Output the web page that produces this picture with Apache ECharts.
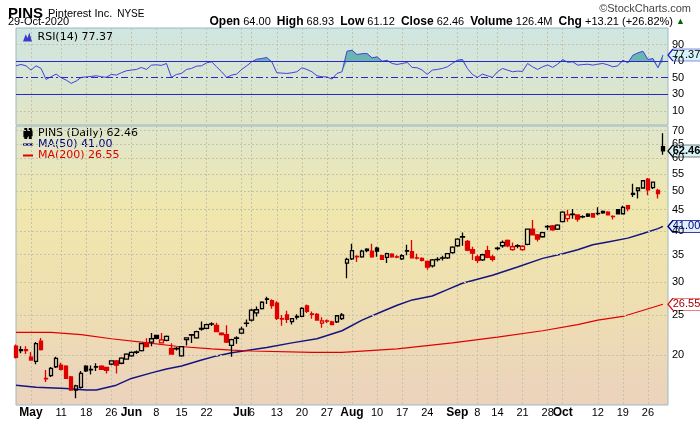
<!DOCTYPE html>
<html><head><meta charset="utf-8">
<script src="https://cdn.jsdelivr.net/npm/echarts@6/dist/echarts.min.js"></script>
<style>html,body{margin:0;padding:0;background:#fff}#c{width:700px;height:421px}</style>
</head><body><div id="c"></div>
<script>
// ---- categories (trading days 2020) ----
const dates = [
 '4/28','4/29','4/30',
 '5/1','5/4','5/5','5/6','5/7','5/8','5/11','5/12','5/13','5/14','5/15','5/18','5/19','5/20','5/21','5/22','5/26','5/27','5/28','5/29',
 '6/1','6/2','6/3','6/4','6/5','6/8','6/9','6/10','6/11','6/12','6/15','6/16','6/17','6/18','6/19','6/22','6/23','6/24','6/25','6/26','6/29','6/30',
 '7/1','7/2','7/6','7/7','7/8','7/9','7/10','7/13','7/14','7/15','7/16','7/17','7/20','7/21','7/22','7/23','7/24','7/27','7/28','7/29','7/30','7/31',
 '8/3','8/4','8/5','8/6','8/7','8/10','8/11','8/12','8/13','8/14','8/17','8/18','8/19','8/20','8/21','8/24','8/25','8/26','8/27','8/28','8/31',
 '9/1','9/2','9/3','9/4','9/8','9/9','9/10','9/11','9/14','9/15','9/16','9/17','9/18','9/21','9/22','9/23','9/24','9/25','9/28','9/29','9/30',
 '10/1','10/2','10/5','10/6','10/7','10/8','10/9','10/12','10/13','10/14','10/15','10/16','10/19','10/20','10/21','10/22','10/23','10/26','10/27','10/28','10/29'
];
const categories = dates.concat(['']);

// x tick labels: [date, text, isMonth]
const xTickLabels = [
 ['5/1','May',1],['5/11','11',0],['5/18','18',0],['5/26','26',0],['6/1','Jun',1],['6/8','8',0],['6/15','15',0],['6/22','22',0],
 ['7/1','Jul',1],['7/6','6',0],['7/13','13',0],['7/20','20',0],['7/27','27',0],['8/3','Aug',1],['8/10','10',0],['8/17','17',0],['8/24','24',0],
 ['9/1','Sep',1],['9/8','8',0],['9/14','14',0],['9/21','21',0],['9/28','28',0],['10/1','Oct',1],['10/12','12',0],['10/19','19',0],['10/26','26',0]
];
const priceTicks = [20,25,30,35,40,45,50,55,60,65,70];
const rsiTicks = [10,30,50,70,90];

// ---- OHLC ----
const opens = [21.0,20.5,20.6,19.75,19.3,21.6,17.55,17.82,18.73,18.91,18.8,17.7,16.45,16.7,18.8,18.4,18.7,18.8,18.65,19.0,19.35,19.1,19.55,
 19.9,20.3,20.5,21.4,21.5,22.3,21.4,21.7,20.75,20.7,19.9,21.8,22.35,22.0,23.1,23.2,23.75,23.6,22.6,22.4,21.1,21.95,
 22.6,23.85,24.3,25.3,25.9,27.3,27.1,26.7,24.5,25.0,24.1,24.7,24.8,26.3,25.15,25.1,23.9,24.2,24.05,24.05,24.5,33.4,
 34.2,34.7,34.6,36.1,35.7,36.3,34.8,34.5,35.1,34.6,34.2,35.7,35.6,34.4,34.3,33.7,32.9,34.05,34.35,34.4,35.4,
 36.8,38.6,37.7,36.0,34.6,34.0,35.8,34.6,36.2,36.8,37.9,36.0,36.75,36.0,37.1,40.4,39.1,38.7,40.9,41.1,40.4,
 42.1,42.8,43.8,43.7,43.25,43.9,44.0,44.05,44.6,44.4,43.35,45.0,44.0,46.0,49.0,50.1,50.8,53.4,50.9,50.1,64.00];
const highs = [21.2,21.0,21.0,20.35,21.5,22.0,18.4,18.7,19.8,19.15,18.9,17.8,16.95,18.3,18.9,18.85,19.1,18.9,18.7,19.4,19.45,19.75,20.2,
 20.4,20.5,21.4,21.95,22.6,22.4,22.6,22.3,21.35,20.9,21.0,22.05,22.5,22.9,24.1,23.8,24.0,23.95,22.7,23.6,21.9,22.2,
 23.4,24.4,25.9,26.2,27.0,27.7,27.3,27.0,25.0,25.6,24.6,25.1,26.1,26.5,25.5,25.3,24.7,24.4,24.2,25.0,25.3,34.4,
 37.2,34.9,36.0,36.3,37.2,36.6,35.0,35.4,35.3,34.9,35.1,37.0,38.0,35.2,34.5,33.9,34.2,34.5,34.8,35.3,36.7,
 38.4,39.6,38.0,36.6,35.0,35.2,36.8,35.0,36.6,37.9,38.1,37.5,37.1,36.9,40.5,42.5,39.3,39.8,41.3,41.3,41.5,
 44.6,45.0,45.2,43.9,43.6,44.1,44.2,45.6,44.8,44.6,43.6,45.1,46.0,46.2,52.0,51.0,53.0,53.7,52.7,50.6,68.93];
const lows = [19.6,20.2,20.1,19.4,19.0,20.5,17.2,17.7,18.6,18.35,17.5,16.4,15.7,16.6,18.2,17.95,18.3,18.4,18.05,18.9,18.05,19.0,19.5,
 19.8,20.1,20.4,20.9,21.0,21.85,21.35,21.6,20.05,20.5,19.8,21.1,21.4,21.9,22.9,23.1,23.5,22.7,22.3,21.4,19.8,21.3,
 22.5,23.4,24.1,24.8,25.8,26.6,25.9,24.3,23.55,23.9,23.7,24.4,24.7,25.3,24.5,24.2,23.3,23.9,23.6,23.9,24.3,30.7,
 34.0,33.6,34.4,35.5,34.4,34.6,34.0,33.4,34.4,34.3,34.0,34.9,34.3,34.1,33.7,32.2,32.6,33.7,33.9,34.2,35.2,
 36.6,36.8,35.7,34.0,33.4,33.8,34.3,33.7,35.9,36.4,36.5,35.8,36.3,35.8,36.9,39.0,37.7,38.5,40.2,40.0,40.2,
 42.0,42.1,42.8,42.1,42.9,43.2,43.0,43.6,44.0,43.6,42.6,43.8,43.8,44.6,48.3,47.9,50.6,48.8,50.5,47.9,61.12];
const closes = [19.75,20.6,20.5,19.45,21.3,20.6,17.5,18.57,19.63,18.45,17.55,16.45,16.84,18.06,18.3,18.45,18.75,18.45,18.35,19.35,18.9,19.65,20.1,
 20.3,20.35,21.3,20.95,21.9,21.95,21.75,22.2,20.1,20.75,20.95,22.0,22.4,22.8,23.2,23.7,23.8,22.8,22.4,21.5,21.8,22.0,
 23.1,23.9,25.7,25.75,26.85,27.35,26.35,24.55,24.45,24.4,24.5,24.8,25.95,25.5,25.1,24.3,24.2,24.15,23.7,24.9,25.0,34.1,
 35.8,34.6,35.7,35.8,34.6,35.7,34.1,35.2,34.6,34.55,34.8,35.8,34.4,34.35,33.9,32.65,34.0,34.1,34.4,35.2,36.5,
 38.2,38.7,35.9,35.3,33.9,35.0,34.5,34.1,36.3,37.5,36.8,36.6,36.8,36.7,40.4,39.1,38.2,39.6,41.0,40.2,41.3,
 44.4,43.7,43.9,42.7,43.3,43.4,43.2,44.1,44.2,43.7,43.3,44.0,45.6,45.3,49.3,50.8,52.9,50.3,52.5,49.25,62.46];

// ---- moving averages ----
const ma50 = [['4/28',16.9],['5/4',16.7],['5/12',16.6],['5/18',16.45],['5/20',16.45],['5/27',16.9],['6/1',17.55],['6/5',18.1],['6/10',18.5],['6/15',18.8],
 ['6/19',19.45],['6/24',19.9],['6/29',20.25],['7/9',20.85],['7/16',21.4],['7/23',21.9],['7/30',22.9],['8/5',24.3],['8/11',25.5],['8/14',26.4],
 ['8/19',27.2],['8/25',27.8],['8/28',28.8],['9/2',29.85],['9/11',31.2],['9/18',32.7],['9/25',34.3],['10/1',35.2],['10/6',36.0],['10/9',37.0],
 ['10/14',37.6],['10/20',38.4],['10/23',39.4],['10/28',40.5],['10/29',41.0]];
const ma200 = [['4/28',22.7],['5/7',22.7],['5/15',22.4],['5/26',21.9],['6/3',21.5],['6/12',21.0],['6/23',20.7],['6/29',20.56],['7/6',20.45],
 ['7/22',20.3],['7/30',20.3],['8/14',20.7],['8/31',21.4],['9/14',22.1],['9/25',22.9],['10/6',23.7],['10/12',24.3],['10/19',24.8],['10/29',26.55]];

// ---- RSI(14) ----
const rsi = [64.4,66.0,64.4,59.2,64.4,61.2,48.0,51.2,54.4,50.0,
 47.2,43.2,46.0,50.4,51.0,51.6,52.4,51.2,50.6,54.0,
 53.2,56.0,58.4,59.2,60.0,62.4,60.0,65.2,65.6,64.9,
 67.2,50.4,54.0,55.2,60.0,61.2,64.0,64.4,68.0,69.2,
 63.2,57.2,50.4,53.2,54.4,60.0,64.4,69.2,72.4,73.2,
 74.4,69.2,56.0,55.6,55.2,56.0,57.2,62.0,60.0,57.2,
 52.4,51.2,50.9,48.4,55.2,57.2,82.0,83.2,78.0,79.0,
 79.2,74.0,75.2,70.0,71.0,67.2,66.0,67.2,68.4,62.4,
 62.0,59.2,54.0,59.2,60.0,61.2,63.2,67.2,71.2,72.0,
 61.2,54.0,50.4,54.4,52.4,50.4,57.2,61.2,59.2,57.2,
 58.0,57.6,67.2,63.2,60.0,63.2,65.4,62.5,66.4,72.0,
 68.6,69.2,65.2,65.9,66.3,65.2,66.4,67.2,65.6,63.2,
 64.4,71.2,68.0,77.2,80.0,82.0,72.0,73.2,62.0,77.37];
const RSI_OB = 70;

const last = closes.length - 1;
const lastMa50 = ma50[ma50.length-1][1], lastMa200 = ma200[ma200.length-1][1], lastRsi = rsi[rsi.length-1];
const chg = closes[last] - closes[last-1];
const chgPct = chg / closes[last-1] * 100;

const RED = '#e00000', BLK = '#000000', HOLLOW = 'rgba(255,255,255,0)';
// colour: black if close >= previous close, red otherwise; hollow body if close > open, filled otherwise
const candleData = closes.map((c, i) => {
  const prev = i === 0 ? opens[0] : closes[i-1];
  const col = c >= prev ? BLK : RED;
  const fill = c > opens[i] ? HOLLOW : col;
  return { value: [opens[i], c, lows[i], highs[i]],
    itemStyle: { color: fill, color0: fill, borderColor: col, borderColor0: col, borderColorDoji: col } };
});
// overbought fill: stacked band between 70 and the RSI line
const rsiBase = rsi.map(v => Math.min(v, RSI_OB));
const rsiOver = rsi.map(v => Math.max(v - RSI_OB, 0));

const labelMap = {}; xTickLabels.forEach(t => labelMap[t[0]] = t);
const isTick = (idx, val) => !!labelMap[val];
const FONT = 'Liberation Sans, Arial, sans-serif';
const tagSymbol = 'path://M0,6L6,0L40,0L40,12L6,12Z';
const tag = (y, fill, border, txtCol, bold) => ({
  symbol: tagSymbol, symbolSize: [33, 12], symbolOffset: [16.5, 0], silent: true,
  data: [{ coord: [categories.length - 1, y], value: y }],
  itemStyle: { color: fill, borderColor: border, borderWidth: 1 },
  label: { show: true, position: 'inside', offset: [2, 0], formatter: (p) => Number(p.value).toFixed(2),
           color: txtCol, fontSize: 11, fontFamily: FONT, fontWeight: bold ? 'bold' : 'normal' }
});
const gridLine = { color: '#c4c4ac', type: [2, 2], width: 1 };

const chart = echarts.init(document.getElementById('c'), null, { renderer: 'canvas' });
chart.setOption({
  animation: false,
  backgroundColor: '#ffffff',
  title: [
    { left: 3, top: 0, text: '{a|PINS} {b|Pinterest Inc.} {c|NYSE}',
      textStyle: { rich: { a: { fontSize: 15, fontWeight: 'bold', fontFamily: FONT, color: '#000' },
                           b: { fontSize: 11, fontWeight: 'normal', fontFamily: FONT, color: '#000' },
                           c: { fontSize: 10, fontWeight: 'normal', fontFamily: FONT, color: '#000' } } } },
    { left: 3, top: 11, text: '29-Oct-2020', textStyle: { fontSize: 11, fontWeight: 'normal', fontFamily: FONT, color: '#000' } },
    { right: 4, top: -2, text: '\u00a9StockCharts.com', textStyle: { fontSize: 11, fontWeight: 'normal', fontFamily: FONT, color: '#444' } },
    { right: 10, top: 11,
      text: '{b|Open} ' + opens[last].toFixed(2) + '  {b|High} ' + highs[last].toFixed(2) + '  {b|Low} ' + lows[last].toFixed(2) +
            '  {b|Close} ' + closes[last].toFixed(2) + '  {b|Volume} 126.4M  {b|Chg} +' + chg.toFixed(2) + ' (+' + chgPct.toFixed(2) + '%) {g|\u25b2}',
      textStyle: { fontSize: 11, fontWeight: 'normal', fontFamily: FONT, color: '#000',
        rich: { b: { fontSize: 12, fontWeight: 'bold', fontFamily: FONT, color: '#000' }, g: { fontSize: 9, color: '#006400' } } } }
  ],
  legend: [
    { left: 18, top: 26, orient: 'vertical', itemWidth: 10, itemHeight: 9, itemGap: 0, selectedMode: false,
      data: [{ name: 'RSI(14)', icon: 'path://M0,10L3,2L5,6L7,0L10,10Z', itemStyle: { color: '#3c3ccc' } }],
      formatter: (n) => n + ' ' + lastRsi.toFixed(2),
      textStyle: { fontSize: 11, fontFamily: 'DejaVu Sans', color: '#000', lineHeight: 12 } },
    { left: 18, top: 123, orient: 'vertical', itemWidth: 10, itemHeight: 9, itemGap: 0, selectedMode: false,
      data: [
        { name: 'PINS (Daily)', icon: 'path://M0,3h3v5h-3z M1,0h1v10h-1z M5,2h3v5h-3z M6,0h1v10h-1z', itemStyle: { color: '#000', borderColor: '#000' }, textStyle: { color: '#000' } },
        { name: 'MA(50)', icon: 'path://M0,4h10v2h-10z', itemStyle: { color: '#000080' }, textStyle: { color: '#000080' } },
        { name: 'MA(200)', icon: 'path://M0,4h10v2h-10z', itemStyle: { color: RED }, textStyle: { color: RED } } ],
      formatter: (n) => n + ' ' + (n === 'MA(50)' ? lastMa50.toFixed(2) : n === 'MA(200)' ? lastMa200.toFixed(2) : closes[last].toFixed(2)),
      textStyle: { fontSize: 11, fontFamily: 'DejaVu Sans', lineHeight: 10.5 } }
  ],
  grid: [
    { left: 16, right: 32, top: 28, height: 97, show: true, borderColor: '#9db8c1', borderWidth: 1,
      backgroundColor: new echarts.graphic.LinearGradient(0, 0, 0, 1, [
        { offset: 0, color: '#cfe6e2' }, { offset: 1, color: '#e1e5c4' }]) },
    { left: 16, right: 32, top: 126, height: 279, show: true, borderColor: '#9db8c1', borderWidth: 1,
      backgroundColor: new echarts.graphic.LinearGradient(0, 0, 0, 1, [
        { offset: 0, color: '#dfe6cc' }, { offset: 0.3, color: '#f0e7ad' }, { offset: 0.62, color: '#efdfb1' }, { offset: 1, color: '#ebd2bd' }]) }
  ],
  xAxis: [
    { type: 'category', gridIndex: 0, data: categories, boundaryGap: false,
      axisLine: { show: false }, axisTick: { show: false }, axisLabel: { show: false },
      splitLine: { show: true, interval: isTick, lineStyle: gridLine } },
    { type: 'category', gridIndex: 1, data: categories, boundaryGap: false,
      axisLine: { show: false }, axisTick: { show: false },
      axisLabel: { show: true, interval: isTick, margin: 2, fontSize: 11, fontFamily: FONT, color: '#000',
        formatter: (v) => { const t = labelMap[v]; if (!t) return ''; return t[2] ? '{m|' + t[1] + '}' : t[1]; },
        rich: { m: { fontSize: 12, fontWeight: 'bold', fontFamily: FONT, color: '#000' } } },
      splitLine: { show: true, interval: isTick, lineStyle: gridLine } }
  ],
  yAxis: [
    { type: 'value', gridIndex: 0, min: -7, max: 110, position: 'right',
      axisLine: { show: false }, axisTick: { show: false }, axisLabel: { show: false }, splitLine: { show: false } },
    { type: 'log', logBase: 10, gridIndex: 1, min: 15.13, max: 71.8, position: 'right',
      axisLine: { show: false }, axisTick: { show: false }, axisLabel: { show: false }, splitLine: { show: false } }
  ],
  series: [
    { name: 'RSI(14)', type: 'line', xAxisIndex: 0, yAxisIndex: 0, data: rsi, symbol: 'none', z: 4,
      lineStyle: { color: '#4040dd', width: 1 }, itemStyle: { color: '#4040dd' },
      markLine: { silent: true, symbol: 'none', animation: false,
        label: { show: true, position: 'end', distance: 4, formatter: (p) => p.value, color: '#000', fontSize: 11, fontFamily: FONT },
        data: rsiTicks.map(v => ({ yAxis: v,
          lineStyle: v === 70 || v === 30 ? { color: '#2828cc', type: 'solid', width: 1 }
                   : v === 50 ? { color: '#2828cc', type: [7, 3, 2, 3], width: 1 } : gridLine })) },
      markPoint: tag(lastRsi, '#d6f4fa', '#2020c8', '#000', false) },
    { name: 'rsiBase', type: 'line', stack: 'ob', xAxisIndex: 0, yAxisIndex: 0, data: rsiBase, symbol: 'none', z: 2, silent: true,
      lineStyle: { width: 0, opacity: 0 } },
    { name: 'rsiOver', type: 'line', stack: 'ob', xAxisIndex: 0, yAxisIndex: 0, data: rsiOver, symbol: 'none', z: 2, silent: true,
      lineStyle: { width: 0, opacity: 0 }, areaStyle: { color: '#5fafac', opacity: 0.9 } },
    { name: 'PINS (Daily)', type: 'candlestick', xAxisIndex: 1, yAxisIndex: 1, data: candleData, barWidth: 4, z: 5, clip: true,
      itemStyle: { color: '#000', color0: RED, borderColor: '#000', borderColor0: RED, borderWidth: 1.3 },
      markLine: { silent: true, symbol: 'none', animation: false,
        label: { show: true, position: 'end', distance: 4, formatter: (p) => p.value, color: '#000', fontSize: 11, fontFamily: FONT },
        lineStyle: gridLine,
        data: priceTicks.map(v => ({ yAxis: v })) },
      markPoint: tag(closes[last], '#d6f4fa', '#000', '#000', true) },
    { name: 'MA(50)', type: 'line', xAxisIndex: 1, yAxisIndex: 1, data: ma50, symbol: 'none', z: 3,
      lineStyle: { color: '#141480', width: 1.5 }, itemStyle: { color: '#141480' },
      markPoint: tag(lastMa50, '#dff0fa', '#000080', '#000080', false) },
    { name: 'MA(200)', type: 'line', xAxisIndex: 1, yAxisIndex: 1, data: ma200, symbol: 'none', z: 3,
      lineStyle: { color: RED, width: 1.2 }, itemStyle: { color: RED },
      markPoint: tag(lastMa200, '#ffffff', RED, '#a00000', false) }
  ]
});
</script>
</body></html>
